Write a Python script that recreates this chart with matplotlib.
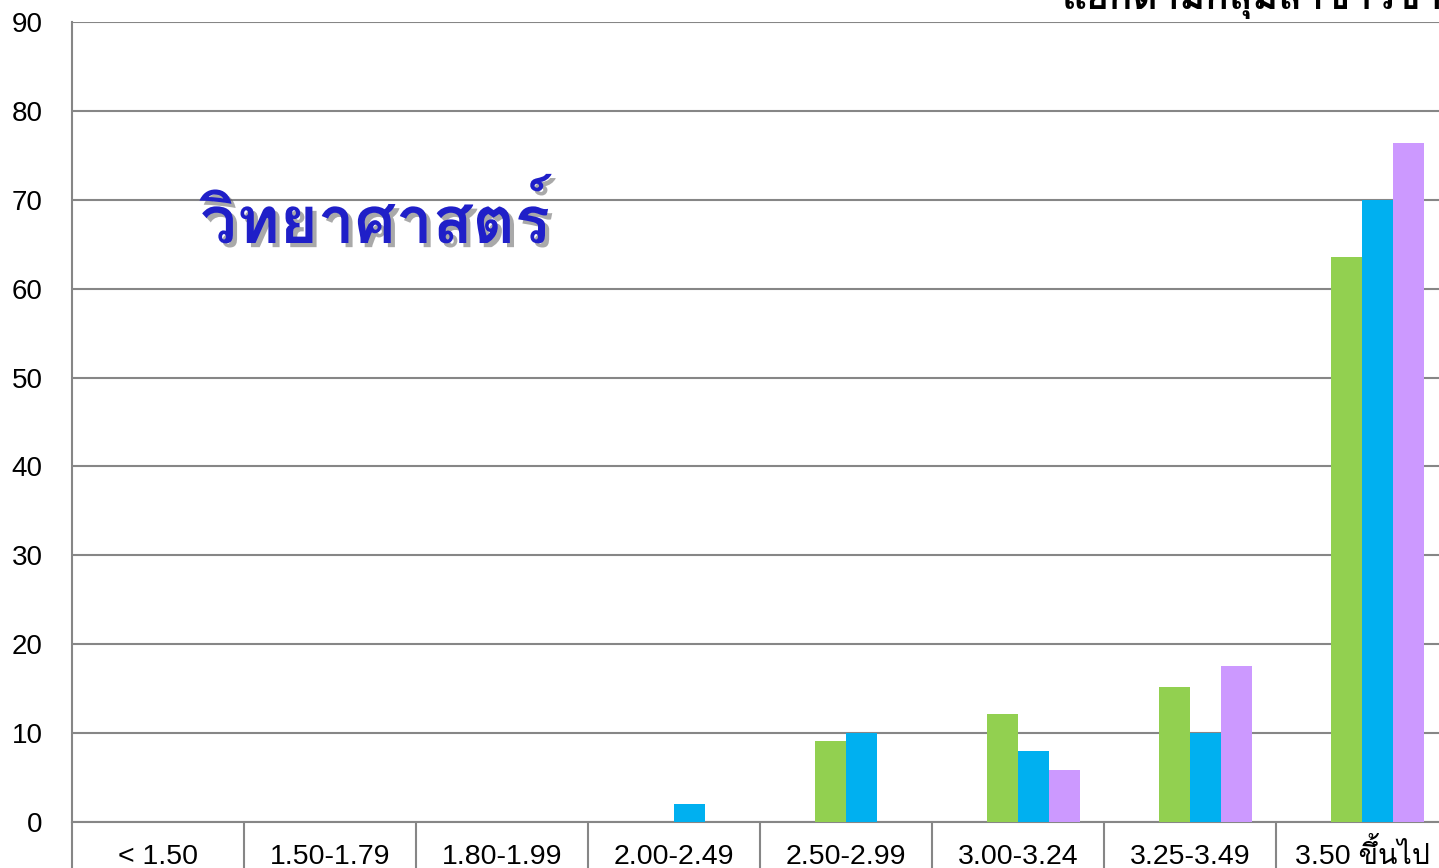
import numpy as np
import matplotlib
matplotlib.use('Agg')
import matplotlib.pyplot as plt
import matplotlib.patheffects as pe
from matplotlib import font_manager
from matplotlib.ft2font import FT2Font

categories = ['< 1.50', '1.50-1.79', '1.80-1.99', '2.00-2.49', '2.50-2.99', '3.00-3.24', '3.25-3.49', '3.50 ขึ้นไป']
green_vals = [0, 0, 0, 0, 9.1, 12.1, 15.2, 63.6]
blue_vals = [0, 0, 0, 2.0, 10.0, 8.0, 10.0, 70.0]
purple_vals = [0, 0, 0, 0, 0, 5.9, 17.6, 76.4]
yticks = [0, 10, 20, 30, 40, 50, 60, 70, 80, 90]
title = 'แยกตามกลุ่มสาขาวิชา'
subject = 'วิทยาศาสตร์'


def find_thai_font():
    # first installed font that has Thai glyphs
    for f in font_manager.fontManager.ttflist:
        try:
            if 0x0E27 in FT2Font(f.fname).get_charmap():
                return f.name
        except Exception:
            continue
    return 'DejaVu Sans'


thai = find_thai_font()
plt.rcParams['font.family'] = ['Liberation Sans', thai, 'DejaVu Sans']

fig = plt.figure(figsize=(14.39, 8.68), dpi=100)
ax = fig.add_axes([72 / 1439, 46 / 868, 1376 / 1439, 800 / 868])

x = np.arange(len(categories))
w = 31 / 172
ax.bar(x - 0.5 * w, green_vals, w, color='#92D050', zorder=3)
ax.bar(x + 0.5 * w, blue_vals, w, color='#00B0F0', zorder=3)
ax.bar(x + 1.5 * w, purple_vals, w, color='#CC99FF', zorder=3)

ax.set_xlim(-0.5, len(categories) - 0.5)
ax.set_ylim(0, 90)
ax.set_yticks(yticks)
ax.yaxis.grid(True, color='#868686', linewidth=1.5, zorder=0)
ax.tick_params(axis='y', length=0, pad=21, labelsize=20)

# category boxes below the axis
ax.set_xticks(np.arange(len(categories) + 1) - 0.5)
ax.set_xticklabels([])
ax.tick_params(axis='x', which='major', length=34, width=1.5, color='#868686', direction='out')
ax.set_xticks(x, minor=True)
ax.set_xticklabels(categories, minor=True, fontsize=20.5, va='baseline')
ax.tick_params(axis='x', which='minor', length=0, pad=30)

for s in ['top', 'right']:
    ax.spines[s].set_visible(False)
for s in ['left', 'bottom']:
    ax.spines[s].set_color('#868686')
    ax.spines[s].set_linewidth(1.5)

fig.text(1062 / 1439, 1.0 - 9 / 868, title, fontsize=28, fontweight='bold', family=[thai, 'DejaVu Sans'],
         ha='left', va='baseline')
ax.text(200 / 1439, 1 - 243 / 868, subject, transform=fig.transFigure, fontsize=47, fontweight='bold',
        color='#1F1FC8', family=[thai, 'DejaVu Sans'], ha='left', va='baseline',
        path_effects=[pe.withSimplePatchShadow(offset=(3, -3), shadow_rgbFace='#555555', alpha=0.5)])

plt.savefig('out.png', dpi=100)
